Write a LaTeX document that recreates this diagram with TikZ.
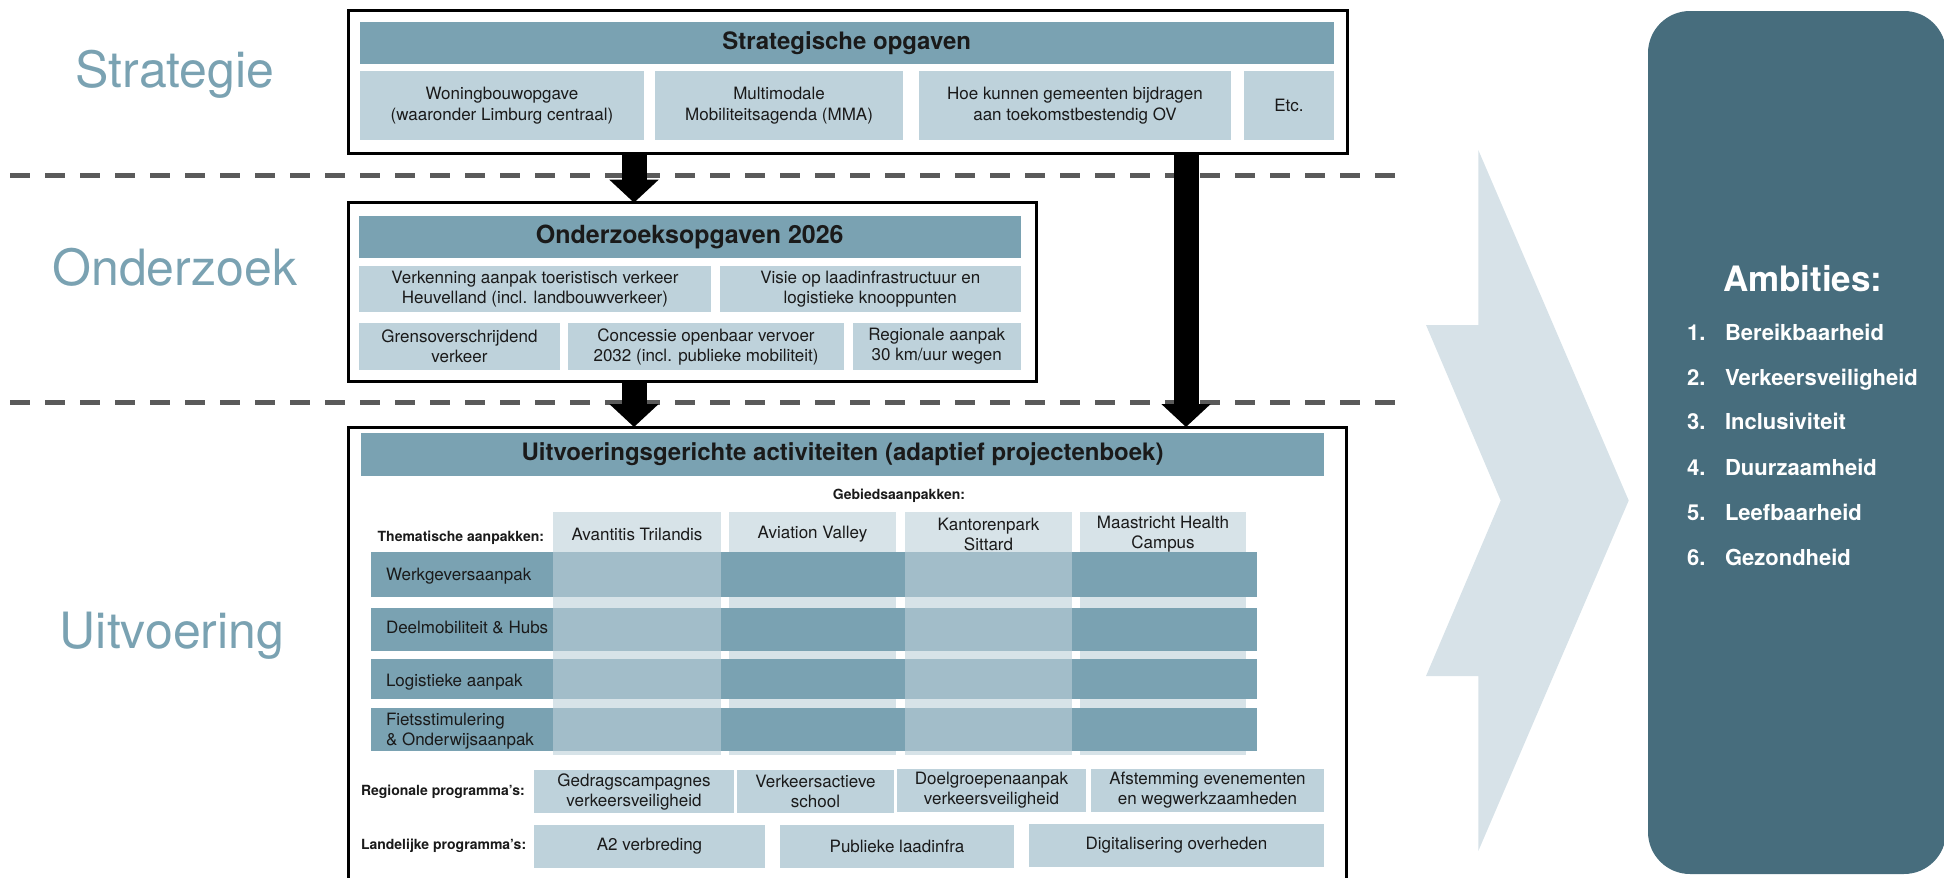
\documentclass[tikz,border=0pt]{standalone}
\usepackage{fontspec}
\setmainfont{TeX Gyre Heros}
\usetikzlibrary{arrows.meta}

\definecolor{hdr}{HTML}{7AA2B2}
\definecolor{subc}{HTML}{BED2DB}
\definecolor{midc}{HTML}{A2BDC9}
\definecolor{palec}{HTML}{D7E3E8}
\definecolor{chev}{HTML}{D7E2E8}
\definecolor{amb}{HTML}{476D7D}
\definecolor{dashc}{HTML}{5A5A5A}
\definecolor{ink}{HTML}{1A1A1A}

\newcommand\fs[2]{\fontsize{#1}{#2}\selectfont}
% \mkbox{name}{style}{x1}{y1}{x2}{y2}{text}
\newcommand\mkbox[7]{%
  \pgfmathsetmacro\bxw{#5-#3}\pgfmathsetmacro\bxh{#6-#4}%
  \node[#2, minimum width=\bxw pt, minimum height=\bxh pt] (#1)
    at ({(#3+#5)/2},{(#4+#6)/2}) {#7};}

\begin{document}
\begin{tikzpicture}[x=1pt,y=-1pt,
  plain/.style={inner sep=0pt, outer sep=0pt},
  frame/.style={plain, draw=black, line width=3pt, fill=white},
  hdrbar/.style={plain, fill=hdr, text=ink, font=\bfseries\fs{24}{28}},
  subbox/.style={plain, fill=subc, text=ink, align=center, font=\fs{17}{21}},
  cellhead/.style={plain, fill=palec, text=ink, align=center, font=\fs{17}{20}},
  palecol/.style={plain, fill=palec},
  rowbar/.style={plain, fill=hdr},
  midcell/.style={plain, fill=midc},
  rowlabel/.style={plain, anchor=base west, text=ink, font=\fs{17}{20}},
  smalllabel/.style={plain, text=ink, font=\bfseries\fs{14}{17}},
  phase/.style={plain, anchor=base, text=hdr, font=\fs{50}{56}},
  dashline/.style={draw=dashc, line width=5pt, dash pattern=on 20pt off 15pt},
  bigarrow/.style={line width=25pt, -{Triangle[width=48pt,length=23pt]}},
  ambtext/.style={plain, anchor=base west, text=white, font=\bfseries\fs{22}{26}},
]
\useasboundingbox (0,0) rectangle (1944,878);
\clip (0,0) rectangle (1944,878);

% phase labels
\node[phase] (lstrat) at (175,87) {Strategie};
\node[phase] (lond) at (175,285.5) {Onderzoek};
\node[phase] (luitv) at (172,648.5) {Uitvoering};

% phase separators
\coordinate (d1a) at (10,175);   \coordinate (d1b) at (1398,175);
\coordinate (d2a) at (10,402.5); \coordinate (d2b) at (1398,402.5);
\draw[dashline] (d1a) -- (d1b);
\draw[dashline] (d2a) -- (d2b);

% ---------- strategy ----------
\mkbox{strat}{frame}{348}{10}{1347}{153}{}
\mkbox{strathdr}{hdrbar}{359.5}{21.7}{1334}{64}{Strategische opgaven}
\mkbox{s1}{subbox}{359.5}{71}{644.4}{140}{Woningbouwopgave\\(waaronder Limburg centraal)}
\mkbox{s2}{subbox}{654.9}{71}{903.3}{140}{Multimodale\\Mobiliteitsagenda (MMA)}
\mkbox{s3}{subbox}{919}{71}{1231}{140}{Hoe kunnen gemeenten bijdragen\\aan toekomstbestendig OV}
\mkbox{s4}{subbox}{1244}{71}{1334}{140}{Etc.}

% ---------- research ----------
\mkbox{onder}{frame}{348.4}{202.7}{1036.6}{381}{}
\mkbox{onderhdr}{hdrbar, font=\bfseries\fs{25}{29}}{359}{216}{1020.5}{258.3}{Onderzoeksopgaven 2026}
\mkbox{o1}{subbox, font=\fs{17}{20}}{359}{266}{711}{311.7}{Verkenning aanpak toeristisch verkeer\\Heuvelland (incl. landbouwverkeer)}
\mkbox{o2}{subbox, font=\fs{17}{20}}{720}{266}{1020.5}{311.7}{Visie op laadinfrastructuur en\\logistieke knooppunten}
\mkbox{o3}{subbox, font=\fs{17}{20}}{359}{323}{560}{370}{Grensoverschrijdend\\verkeer}
\mkbox{o4}{subbox, font=\fs{17}{20}}{568}{323}{844}{370}{Concessie openbaar vervoer\\2032 (incl. publieke mobiliteit)}
\mkbox{o5}{subbox, font=\fs{17}{20}}{853}{323}{1020.5}{370}{Regionale aanpak\\30 km/uur wegen}

% ---------- implementation ----------
\mkbox{uitv}{frame}{348}{427}{1346}{900}{}
\mkbox{uitvhdr}{hdrbar}{361}{433}{1324}{476}{Uitvoeringsgerichte activiteiten (adaptief projectenboek)}
\node[smalllabel] (gebied) at (899,496) {Gebiedsaanpakken:};
\node[smalllabel, anchor=east] (thema) at (544,538) {Thematische aanpakken:};

% area columns (pale background showing between the rows)
\mkbox{c1}{palecol}{553}{512}{721}{755}{}
\mkbox{c2}{palecol}{729}{512}{896}{755}{}
\mkbox{c3}{palecol}{905}{512}{1072}{755}{}
\mkbox{c4}{palecol}{1080}{512}{1246}{755}{}
\mkbox{h1}{cellhead}{553}{515}{721}{554}{Avantitis Trilandis}
\mkbox{h2}{cellhead}{729}{515}{896}{554}{Aviation Valley}
\mkbox{h3}{cellhead}{905}{515}{1072}{554}{Kantorenpark\\Sittard}
\mkbox{h4}{cellhead}{1080}{515}{1246}{554}{Maastricht Health\\Campus}

% thematic rows
\mkbox{r1}{rowbar}{370.6}{552}{1257}{596.7}{}
\mkbox{r2}{rowbar}{370.6}{607.7}{1257}{650.5}{}
\mkbox{r3}{rowbar}{370.6}{659}{1257}{699.3}{}
\mkbox{r4}{rowbar}{370.6}{707.7}{1257}{751}{}
\mkbox{r1a}{midcell}{553}{552}{721}{596.7}{}
\mkbox{r1b}{midcell}{905}{552}{1072}{596.7}{}
\mkbox{r2a}{midcell}{553}{607.7}{721}{650.5}{}
\mkbox{r2b}{midcell}{905}{607.7}{1072}{650.5}{}
\mkbox{r3a}{midcell}{553}{659}{721}{699.3}{}
\mkbox{r3b}{midcell}{905}{659}{1072}{699.3}{}
\mkbox{r4a}{midcell}{553}{707.7}{721}{751}{}
\mkbox{r4b}{midcell}{905}{707.7}{1072}{751}{}
\node[rowlabel] (t1) at (386,580.5) {Werkgeversaanpak};
\node[rowlabel] (t2) at (386,633.5) {Deelmobiliteit \& Hubs};
\node[rowlabel] (t3) at (386,686) {Logistieke aanpak};
\node[rowlabel] (t4a) at (386,725) {Fietsstimulering};
\node[rowlabel] (t4b) at (386,745) {\& Onderwijsaanpak};

% regional and national programmes
\node[smalllabel, anchor=west] (regio) at (361,791.5) {Regionale programma’s:};
\mkbox{p1}{subbox, font=\fs{17}{20}}{534}{770}{734}{813}{Gedragscampagnes\\verkeersveiligheid}
\mkbox{p2}{subbox, font=\fs{17}{20}}{737}{770}{894}{813}{Verkeersactieve\\school}
\mkbox{p3}{subbox, font=\fs{17}{20}}{897}{769}{1086}{812}{Doelgroepenaanpak\\verkeersveiligheid}
\mkbox{p4}{subbox, font=\fs{17}{20}}{1091}{769}{1324}{812}{Afstemming evenementen\\en wegwerkzaamheden}
\node[smalllabel, anchor=west] (landelijk) at (361,846) {Landelijke programma’s:};
\mkbox{n1}{subbox}{534}{825}{765}{868}{A2 verbreding}
\mkbox{n2}{subbox}{780}{825}{1014}{868}{Publieke laadinfra}
\mkbox{n3}{subbox}{1029}{824}{1324}{867}{Digitalisering overheden}

% flow arrows between the layers
\coordinate (ax1) at (634,0);
\coordinate (ax2) at (1186,0);
\draw[bigarrow] (ax1 |- strat.south) -- (ax1 |- onder.north);
\draw[bigarrow] (ax1 |- onder.south) -- (ax1 |- uitv.north);
\draw[bigarrow] (ax2 |- strat.south) -- (ax2 |- uitv.north);

% chevron towards the ambitions
\fill[chev] (1478.3,150) -- (1628.7,500.5) -- (1478.3,851) -- (1478.3,676)
  -- (1426,676) -- (1500.7,500.5) -- (1426,325) -- (1478.3,325) -- cycle;

% ambitions panel
\mkbox{ambbox}{plain, fill=amb, rounded corners=42pt}{1648}{11}{1946}{874}{}
\node[plain, anchor=base west, text=white, font=\bfseries\fs{35}{40}] (ambtitle) at (1723,291) {Ambities:};
\node[ambtext] (n1l) at (1687,340.5) {1.}; \node[ambtext] (a1) at (1725,340.5) {Bereikbaarheid};
\node[ambtext] (n2l) at (1687,385) {2.};   \node[ambtext] (a2) at (1725,385) {Verkeersveiligheid};
\node[ambtext] (n3l) at (1687,429.5) {3.}; \node[ambtext] (a3) at (1725,429.5) {Inclusiviteit};
\node[ambtext] (n4l) at (1687,475) {4.};   \node[ambtext] (a4) at (1725,475) {Duurzaamheid};
\node[ambtext] (n5l) at (1687,520.5) {5.}; \node[ambtext] (a5) at (1725,520.5) {Leefbaarheid};
\node[ambtext] (n6l) at (1687,565.5) {6.}; \node[ambtext] (a6) at (1725,565.5) {Gezondheid};
\end{tikzpicture}
\end{document}
